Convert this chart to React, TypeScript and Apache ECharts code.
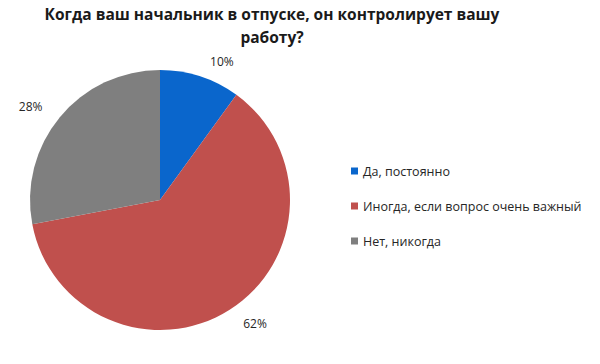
import React, { useEffect, useRef } from "react";
import * as echarts from "echarts";

const categories = ["Да, постоянно", "Иногда, если вопрос очень важный", "Нет, никогда"];
const values = [10, 62, 28];
const colors = ["#0A66CC", "#C0504D", "#7F7F7F"];
const titleText = "Когда ваш начальник в отпуске, он контролирует вашу\nработу?";

export default function App() {
  const ref = useRef<HTMLDivElement>(null);
  useEffect(() => {
    if (!ref.current) return;
    const chart = echarts.init(ref.current, null, { renderer: "svg" });
    chart.setOption({
      animation: false,
      backgroundColor: "#fff",
      title: {
        text: titleText,
        left: 267,
        textAlign: "center",
        top: -3,
        textStyle: {
          fontFamily: "Open Sans",
          fontWeight: "bold",
          fontSize: 15.5,
          lineHeight: 23,
          color: "#1a1a1a",
        },
      },
      legend: {
        orient: "vertical",
        left: 346,
        top: 159,
        itemWidth: 7,
        itemHeight: 7,
        itemGap: 21,
        icon: "rect",
        textStyle: { fontFamily: "Open Sans", fontSize: 12.5, color: "#262626", lineHeight: 14 },
        data: categories,
      },
      series: [
        {
          type: "pie",
          center: [160, 200],
          radius: 130,
          startAngle: 90,
          clockwise: true,
          data: categories.map((c, i) => ({ name: c, value: values[i], itemStyle: { color: colors[i] } })),
          label: {
            show: true,
            position: "outside",
            formatter: "{c}%",
            fontFamily: "Open Sans",
            fontSize: 12,
            color: "#262626",
          },
          labelLine: { show: false, length: 16, length2: 0 },
        },
      ],
    });
    return () => chart.dispose();
  }, []);
  return <div ref={ref} style={{ width: 600, height: 364, position: "absolute", left: 0, top: 0 }} />;
}
